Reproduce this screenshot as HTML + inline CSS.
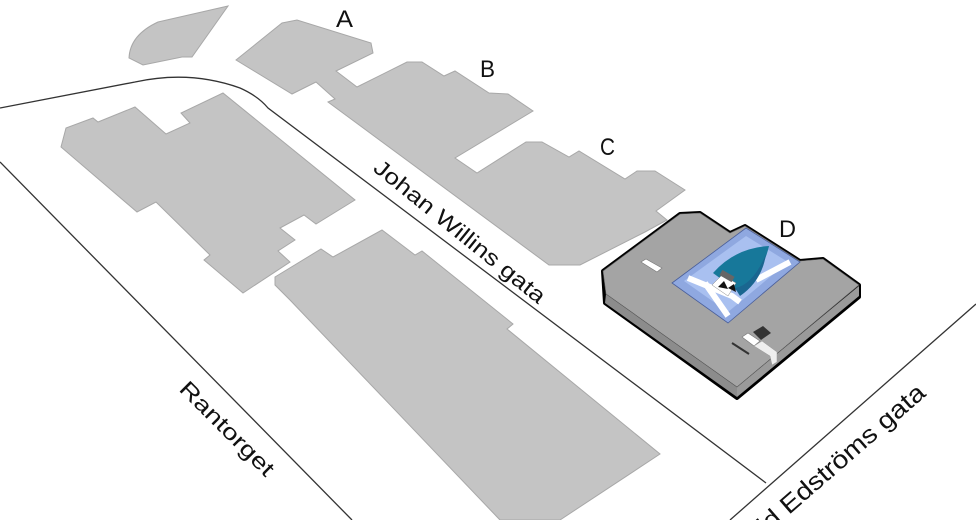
<!DOCTYPE html>
<html><head><meta charset="utf-8"><style>html,body{margin:0;padding:0;background:#fff;overflow:hidden}svg{display:block}</style></head>
<body>
<svg width="976" height="520" viewBox="0 0 976 520" xmlns="http://www.w3.org/2000/svg" font-family="Liberation Sans, sans-serif">
<g fill="#c4c4c4" stroke="#a8a8a8" stroke-width="1">
<path d="M228,6 L158,22 Q130,35 129,58 L143,65 L182,57 L192,57 Z"/>
<path d="M236,60 L282,23 L297,20 L371,43 L373,53 L336,71 L357,87 L407,62 L422,62 L444,76 L455,71 L489,93 L508,94 L533,111 L455,158 L477,173 L526,142 L542,142 L569,157 L579,151 L625,179 L637,171 L655,171 L685,190 L656,211 L667,220 L645,232 L580,265 L549,265 L328,102 L335,99 L316,82 L292,94 Z"/>
<path d="M61,147 L66,128 L93,118 L98,122 L135,107 L166,134 L190,123 L181,113 L223,93 L355,200 L316,224 L304,215 L280,228 L295,240 L278,251 L290,262 L243,293 L204,260 L210,255 L156,202 L137,212 Z"/>
<path d="M275,277 L321,249 L333,257 L382,230 L415,255 L422,251 L513,324 L507,329 L660,454 L560,520 L500,520 L290,300 L275,285 Z"/>
</g>
<g fill="none" stroke="#333" stroke-width="1.3">
<path d="M0,108 L135,82 Q190,70 240,88 Q258,96 268,108 L766,483"/>
<path d="M0,162 L352,520"/>
<path d="M976,304 L730,520"/>
</g>
<path d="M603,271 L680,214 L700,213 L730,233 L745,226 L800,261 L823,259 L859,285 L859,297 L737,398 L605,303 Z" fill="#000" stroke="#000" stroke-width="4" stroke-linejoin="round"/>
<path d="M606,294 L737,387 L737,397 L605,303 Z" fill="#8c8c8c"/>
<path d="M737,387 L859,286 L859,296 L737,397 Z" fill="#9a9a9a"/>
<path d="M603,271 L680,214 L700,213 L730,233 L745,226 L800,261 L823,259 L859,285 L737,387 L606,294 Z" fill="#a4a4a4" stroke="#555" stroke-width="0.6"/>
<path d="M672,283 L746,228 L800,262 L728,323 Z" fill="#8fa8e0" stroke="#4a5f9a" stroke-width="0.8"/>
<path d="M684,281 L746,236 L788,262 L728,312 Z" fill="#a9c0f0"/>
<path d="M688,278 L732,296 L740,302 M705,283 L728,316 M756,280 L790,262" stroke="#fff" stroke-width="6" fill="none"/>
<path d="M713,273 Q735,248 769,246 Q762,276 740,293 Z" fill="#17789a"/>
<path d="M735,288 Q753,285 766,254 Q762,281 740,296 Z" fill="#1a6690"/>
<path d="M712,285 L722,275 L736,283 L728,296 Z" fill="#fff" stroke="#888" stroke-width="0.5"/>
<path d="M718,287 L724,281 L728,289 Z M728,288 L734,284 L736,292 Z" fill="#111"/>
<rect x="720" y="273" width="14" height="6" fill="#666" transform="rotate(30 727 276)"/>
<path d="M641,262 L646,259 L662,268 L657,272 Z" fill="#fff" stroke="#777" stroke-width="0.6"/>
<path d="M753,332 L763,326 L771,333 L761,340 Z" fill="#333"/>
<path d="M742,337 L748,333 L760,341 L754,346 Z" fill="#fff" stroke="#777" stroke-width="0.6"/>
<path d="M732,343 L749,354" stroke="#333" stroke-width="2"/>
<path d="M754,346 L762,341 L777,352 L777,362 L772,365 L770,356 Z" fill="#eee" stroke="#999" stroke-width="0.5"/>
<g font-size="24" fill="#111">
<text x="336" y="27" textLength="17" lengthAdjust="spacingAndGlyphs">A</text>
<text x="480" y="77" textLength="15" lengthAdjust="spacingAndGlyphs">B</text>
<text x="600" y="155" textLength="15" lengthAdjust="spacingAndGlyphs">C</text>
<text x="779" y="237" textLength="17" lengthAdjust="spacingAndGlyphs">D</text>
</g>
<g font-size="22" fill="#111">
<text transform="translate(372,170) rotate(39)" textLength="214" lengthAdjust="spacingAndGlyphs">Johan Willins gata</text>
<text transform="translate(178,390) rotate(45)" textLength="124" lengthAdjust="spacingAndGlyphs">Rantorget</text>
<text font-size="25" transform="translate(927,395) rotate(-41)" text-anchor="end" textLength="262" lengthAdjust="spacingAndGlyphs">Ingrid Edströms gata</text>
</g>
</svg>
</body></html>
